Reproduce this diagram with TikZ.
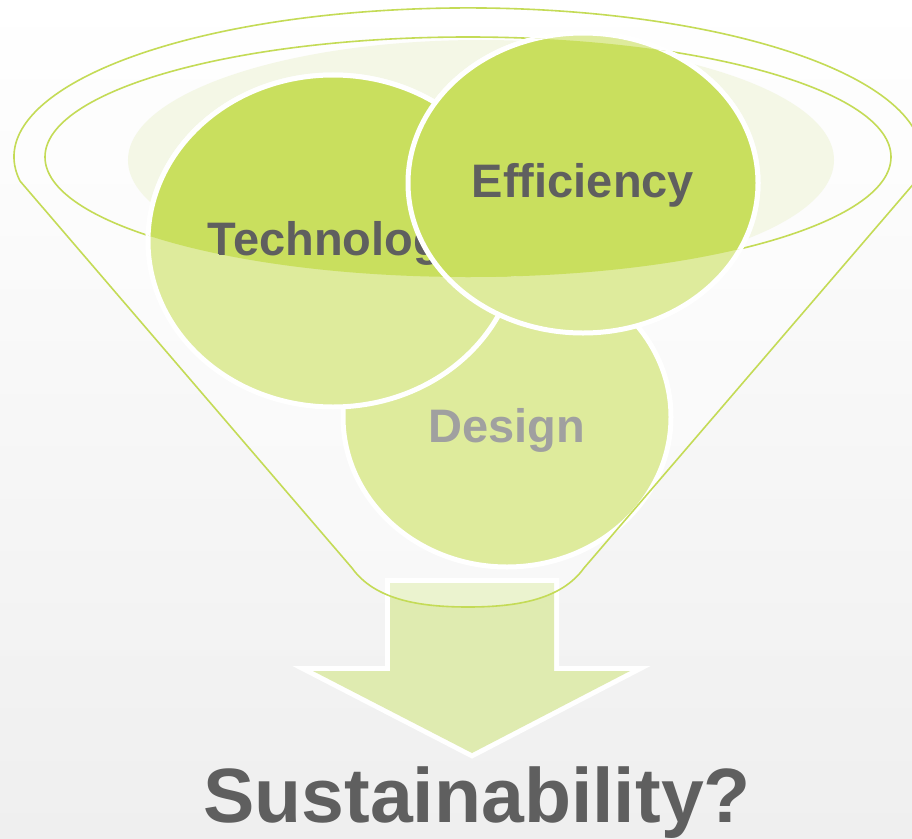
\documentclass[tikz,border=0pt]{standalone}
\usepackage{fontspec}
\setmainfont{Liberation Sans}
\definecolor{rimgreen}{HTML}{C4DB56}
\definecolor{ballgreen}{HTML}{C9DF5E}
\definecolor{paleball}{HTML}{DEEB9C}
\definecolor{arrowgreen}{HTML}{DFEBB0}
\definecolor{rimfill}{HTML}{F4F7E6}
\definecolor{labelgray}{HTML}{5F5F5F}
\definecolor{fadedgray}{HTML}{A0A0A0}
\definecolor{bggray}{HTML}{EFEFEF}

\begin{document}
\begin{tikzpicture}[x=1bp, y=-1bp,
    ball/.style={draw=white, line width=5bp},
    rim/.style={draw=rimgreen, line width=1.6bp},
    label/.style={font=\bfseries\fontsize{47bp}{50bp}\selectfont, text=labelgray, anchor=base, inner sep=0pt},
    arrowbody/.style={fill=arrowgreen, preaction={draw=white, line width=10bp, line join=miter}}
  ]

  % Canvas
  \useasboundingbox (0,0) rectangle (912,839);
  \clip (0,0) rectangle (912,839);
  \shade[top color=white, middle color=white, bottom color=bggray] (0,0) rectangle (912,839);

  % Arrow
  \path[arrowbody] (390,583) -- (554,583) -- (554,671) -- (630,671) -- (472,753) -- (313,671) -- (390,671) -- cycle;

  % Funnel body
  \fill[white, opacity=0.4] (20,181) arc[start angle=189.3, end angle=-9.3, x radius=454bp, y radius=149bp]
    -- (584,568) .. controls (561,600) and (516,607) .. (468,607) .. controls (420,607) and (375,600) .. (352,568) -- cycle;
  \fill[rimfill] (481,160) ellipse[x radius=353bp, y radius=120bp];
  \draw[rim] (468,157) ellipse[x radius=423bp, y radius=120bp];
  \draw[rim] (20,181) arc[start angle=189.3, end angle=-9.3, x radius=454bp, y radius=149bp];

  % Balls (pale part)
  \path[ball, fill=paleball] (507,417) ellipse[x radius=164bp, y radius=150bp];
  \node[label, text=fadedgray] (design) at (507,442) {Design};
  \path[ball, fill=paleball] (333,241) ellipse[x radius=185bp, y radius=166bp];
  \path[ball, fill=paleball] (583,183) ellipse[x radius=175bp, y radius=150bp];

  % Balls (inside the rim)
  \begin{scope}
    \clip (468,157) ellipse[x radius=423bp, y radius=120bp];
    \path[ball, fill=ballgreen] (333,241) ellipse[x radius=185bp, y radius=166bp];
    \node[label] (technology) at (338,255) {Technology};
    \path[ball, fill=ballgreen] (583,183) ellipse[x radius=175bp, y radius=150bp];
    \node[label] (efficiency) at (583,197) {Efficiency};
  \end{scope}

  % Funnel sides
  \draw[rim] (20,181) -- (352,568) .. controls (375,600) and (420,607) .. (468,607)
    .. controls (516,607) and (561,600) .. (584,568) -- (916,181);

  % Result
  \node[label, font=\bfseries\fontsize{77bp}{80bp}\selectfont] (goal) at (477,822) {Sustainability?};

\end{tikzpicture}
\end{document}
